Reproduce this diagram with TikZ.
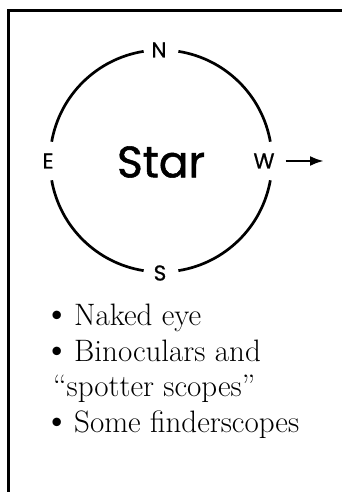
\documentclass[tikz,border=0pt]{standalone}
\usepackage{fontspec}
\newfontfamily\compassfont[FakeBold=0.7]{Poppins}
\newfontfamily\starfont[FakeBold=1.2]{Poppins}
\usetikzlibrary{arrows.meta}
\newcommand{\itembul}{\makebox[21pt][l]{\hspace{-10pt}{\fontsize{38}{38}\selectfont\textbullet}}}
\begin{document}
\begin{tikzpicture}[x=1pt,y=1pt,
  frameline/.style={line width=2.8pt,line join=miter},
  ringarc/.style={line width=2.7pt},
  dirlbl/.style={font=\compassfont\fontsize{21.5}{21.5}\selectfont,inner sep=0pt},
  starlbl/.style={font=\starfont\fontsize{44}{44}\selectfont,inner sep=0pt},
  itemlbl/.style={font=\fontsize{31}{34}\selectfont,anchor=base west,inner sep=0pt},
  motion/.style={line width=2.6pt,-{Latex[length=14pt,width=10pt]}}]
\useasboundingbox (0,0) rectangle (341,492);
\draw[frameline] (345,481.5) -- (8.7,481.5) -- (8.7,-4);
\coordinate (C) at (161,331);
\def\R{111}
\draw[ringarc] ([shift={(99:\R)}]C) arc[start angle=99,end angle=170,radius=\R];
\draw[ringarc] ([shift={(190:\R)}]C) arc[start angle=190,end angle=261,radius=\R];
\draw[ringarc] ([shift={(279:\R)}]C) arc[start angle=279,end angle=350,radius=\R];
\draw[ringarc] ([shift={(10:\R)}]C) arc[start angle=10,end angle=81,radius=\R];
\node[dirlbl] (N) at (159,442) {N};
\node[dirlbl] (E) at (48,331) {E};
\node[dirlbl] (W) at (264,331) {W};
\node[dirlbl] (S) at (160,219) {S};
\node[starlbl] (star) at (161,330) {Star};
\coordinate (tip) at (324,331);
\draw[motion,shorten <=11pt] (W.east) -- (tip);
\node[itemlbl] (i1) at (53,166) {\itembul Naked eye};
\node[itemlbl] (i2) at (53,130.3) {\itembul Binoculars and};
\node[itemlbl] (i3) at (53,95.3) {``spotter scopes''};
\node[itemlbl] (i4) at (53,59) {\itembul Some finderscopes};
\end{tikzpicture}
\end{document}
